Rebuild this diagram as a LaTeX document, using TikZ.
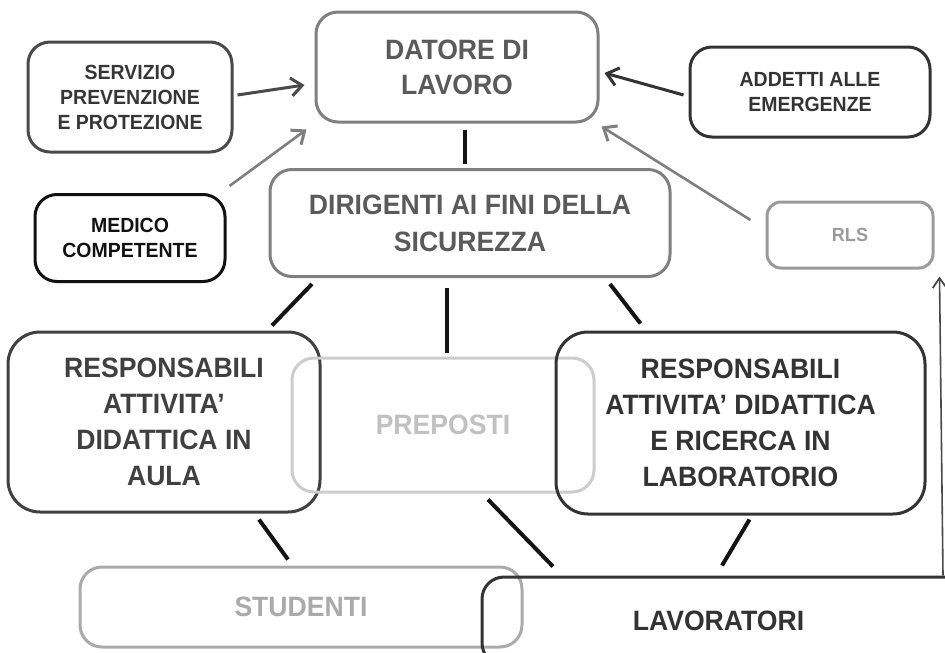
\documentclass[tikz,border=0pt]{standalone}
\usepackage{fontspec}
\setmainfont{Liberation Sans}[FakeStretch=0.95]
\usetikzlibrary{arrows.meta,calc}
\definecolor{gA}{HTML}{7F7F7F}
\definecolor{gAt}{HTML}{5A5A5A}
\definecolor{gB}{HTML}{4A4A4A}
\definecolor{gBt}{HTML}{363636}
\definecolor{gC}{HTML}{333333}
\definecolor{gD}{HTML}{111111}
\definecolor{gE}{HTML}{9A9A9A}
\definecolor{gF}{HTML}{CCCCCC}
\definecolor{gFt}{HTML}{C0C0C0}
\definecolor{gG}{HTML}{AAAAAA}
\definecolor{gH}{HTML}{404040}
\begin{document}
\begin{tikzpicture}[x=1pt,y=-1pt,
  box/.style={draw, rounded corners=22pt, line width=3pt, align=center, inner sep=0pt,
    font=\bfseries\fontsize{28}{36}\selectfont},
  smallbox/.style={box, font=\bfseries\fontsize{20.5}{25}\selectfont},
  link/.style={line width=4pt, draw=black!92},
  arr/.style={line width=3pt, -{Straight Barb[length=11pt,width=18pt,line width=3pt]}}
]
\useasboundingbox (0,0) rectangle (945,653);
\clip (0,0) rectangle (945,653);

% nodes
\node[box, minimum width=282pt, minimum height=110pt, draw=gA, text=gAt, font=\bfseries\fontsize{28}{35}\selectfont] (datore) at (457,67) {DATORE DI\\LAVORO};
\node[smallbox, minimum width=204pt, minimum height=110pt, draw=gB, text=gBt] (spp) at (130,97) {SERVIZIO\\PREVENZIONE\\E PROTEZIONE};
\node[smallbox, minimum width=240pt, minimum height=90pt, draw=gC, text=gC] (addetti) at (810,92) {ADDETTI ALLE\\EMERGENZE};
\node[smallbox, minimum width=190pt, minimum height=87pt, draw=gD, text=gD] (medico) at (130,238) {MEDICO\\COMPETENTE};
\node[box, minimum width=400pt, minimum height=107pt, draw=gA, text=gAt, font=\bfseries\fontsize{28}{37}\selectfont] (dirigenti) at (470,223) {DIRIGENTI AI FINI DELLA\\SICUREZZA};
\node[box, rounded corners=14pt, minimum width=166pt, minimum height=66pt, draw=gE, text=gE,
  font=\bfseries\fontsize{19}{23}\selectfont] (rls) at (850,235) {RLS};
\node[box, rounded corners=32pt, minimum width=312pt, minimum height=180pt, draw=gH, text=gH] (raula) at (164,422) {RESPONSABILI\\ATTIVITA’\\DIDATTICA IN\\AULA};
\node[box, minimum width=302pt, minimum height=134pt, draw=gF, text=gFt] (preposti) at (443,425) {PREPOSTI};
\node[box, rounded corners=32pt, minimum width=369pt, minimum height=182pt, draw=gC, text=gC] (rlab) at (740.5,423) {RESPONSABILI\\ATTIVITA’ DIDATTICA\\E RICERCA IN\\LABORATORIO};
\node[box, minimum width=442pt, minimum height=80pt, draw=gG, text=gG] (studenti) at (301,607) {STUDENTI};
\node[box, minimum width=520pt, minimum height=88pt, draw=gC,
  label={[xshift=-23.5pt, text=gC, font=\bfseries\fontsize{28}{36}\selectfont]center:LAVORATORI}] (lavoratori) at (742,621) {};

% arrows into DATORE DI LAVORO
\draw[arr, draw=gB] ($(spp.east)+(4,-2)$) -- ($(datore.west)+(-10,18)$);
\draw[arr, draw=gC] ($(addetti.west)+(-5,3)$) -- ($(datore.east)+(5,6)$);
\draw[arr, draw=gA, line width=2.6pt] ($(medico.north east)+(3,-7)$) -- ($(datore.south west)+(-8,6)$);
\draw[arr, draw=gA, line width=2.6pt] ($(rls.west)+(-15,-15)$) -- ($(datore.south east)+(2,3)$);

% hierarchy links
\draw[link] ($(datore.south)+(8,6)$) -- ($(dirigenti.north)+(-5,-4)$);
\draw[link] ($(dirigenti.south)+(-158,6)$) -- ($(raula.north)+(108,-5)$);
\draw[link] ($(dirigenti.south)+(-23,10)$) -- ($(preposti.north)+(4,-4)$);
\draw[link] ($(dirigenti.south)+(140,6)$) -- ($(rlab.north)+(-100,-7)$);
\draw[link] ($(raula.south)+(95,6)$) -- ($(studenti.north)+(-13,-6)$);
\draw[link] ($(preposti.south)+(45,6)$) -- ($(lavoratori.north)+(-189,-9)$);
\draw[link] ($(rlab.south)+(9,4)$) -- ($(lavoratori.north)+(-20,-10)$);

% lavoratori -> RLS
\coordinate (lavr) at ($(lavoratori.north)+(201,0)$);
\draw[draw=gB, line width=1.6pt, -{Straight Barb[length=10pt,width=14pt,line width=1.8pt]}]
  (lavr) -- ($(rls.south east)+(5,7)$);
\end{tikzpicture}
\end{document}
